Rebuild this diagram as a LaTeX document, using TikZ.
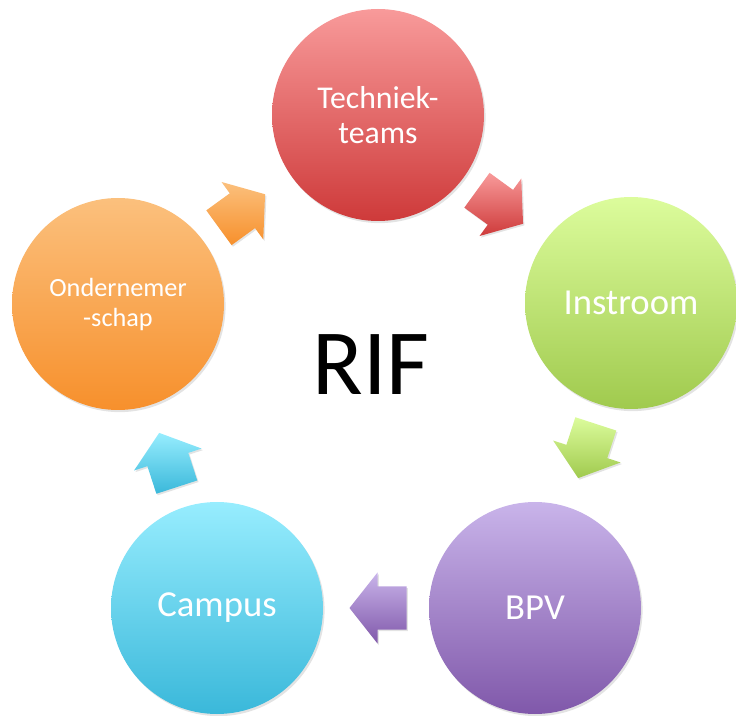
\documentclass[tikz,border=0pt]{standalone}
\usepackage{fontspec}
\setmainfont{Carlito}
\usetikzlibrary{shadows}

\definecolor{redTop}{RGB}{248,154,154}
\definecolor{redBot}{RGB}{206,58,58}
\definecolor{greenTop}{RGB}{220,252,156}
\definecolor{greenBot}{RGB}{160,202,78}
\definecolor{purpleTop}{RGB}{201,180,234}
\definecolor{purpleBot}{RGB}{128,88,170}
\definecolor{blueTop}{RGB}{151,237,254}
\definecolor{blueBot}{RGB}{58,184,218}
\definecolor{orangeTop}{RGB}{251,192,125}
\definecolor{orangeBot}{RGB}{247,144,44}

% block arrow pointing along +x, centred on the origin
\newcommand{\blockpijl}{(-28.5,-21.5) -- (0.5,-21.5) -- (0.5,-35.5) -- (28.5,0) -- (0.5,35.5) -- (0.5,21.5) -- (-28.5,21.5) -- cycle}

\begin{document}
\begin{tikzpicture}[x=0.75pt,y=0.75pt,yscale=-1,xscale=1,
  bubble/.style={circle, minimum size=159pt, inner sep=0pt, text=white, align=center,
    drop shadow={opacity=0.22, shadow xshift=1.2pt, shadow yshift=-1.6pt}},
  turn/.style={drop shadow={opacity=0.22, shadow xshift=1pt, shadow yshift=-1.2pt}}
]
\useasboundingbox (0,0) rectangle (736,716);

%Shape: Circle [techniek]
\node [bubble, top color=redTop, bottom color=redBot, font=\fontsize{23.8}{26.3}\selectfont] (techniek) at (378,115) {Techniek-\\teams};
%Shape: Circle [instroom]
\node [bubble, top color=greenTop, bottom color=greenBot, font=\fontsize{27.5}{30}\selectfont] (instroom) at (631,303) {Instroom};
%Shape: Circle [bpv]
\node [bubble, top color=purpleTop, bottom color=purpleBot, font=\fontsize{27.5}{30}\selectfont] (bpv) at (535,608) {BPV};
%Shape: Circle [campus]
\node [bubble, top color=blueTop, bottom color=blueBot, font=\fontsize{27.5}{30}\selectfont] (campus) at (217,608) {Campus};
%Shape: Circle [ondernemer]
\node [bubble, top color=orangeTop, bottom color=orangeBot, font=\fontsize{19.7}{22.5}\selectfont] (ondernemer) at (118,304) {Ondernemer\\-schap};

%Shape: Right Arrow [techniek -> instroom]
\path [turn, top color=redTop, bottom color=redBot, shift={(500,207)}, rotate=36] \blockpijl;
%Shape: Right Arrow [instroom -> bpv]
\path [turn, top color=greenTop, bottom color=greenBot, shift={(587,451)}, rotate=108] \blockpijl;
%Shape: Right Arrow [bpv -> campus]
\path [turn, top color=purpleTop, bottom color=purpleBot, shift={(378,608)}, rotate=180] \blockpijl;
%Shape: Right Arrow [campus -> ondernemer]
\path [turn, top color=blueTop, bottom color=blueBot, shift={(168,460)}, rotate=-108] \blockpijl;
%Shape: Right Arrow [ondernemer -> techniek]
\path [turn, top color=orangeTop, bottom color=orangeBot, shift={(242,211)}, rotate=-36] \blockpijl;

% Text Node
\node [font=\fontsize{70}{80}\selectfont] (rif) at (371,365) {RIF};

\end{tikzpicture}
\end{document}
